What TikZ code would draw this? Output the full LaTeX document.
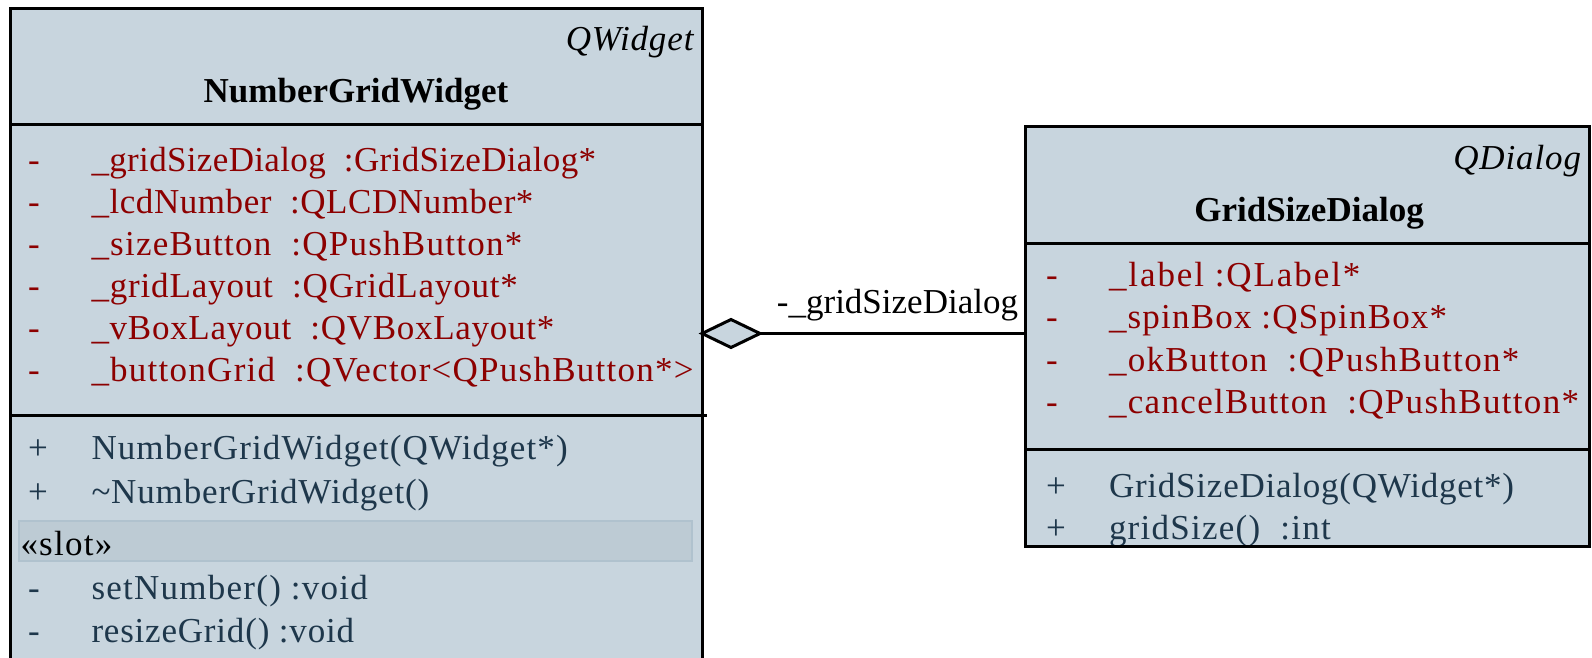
\documentclass[tikz,border=0pt]{standalone}
\usepackage{fontspec}
\setmainfont{Liberation Serif}
\usetikzlibrary{shapes.geometric}

\definecolor{boxfill}{RGB}{200,213,222}
\definecolor{attrred}{RGB}{140,0,0}
\definecolor{opblue}{RGB}{30,55,75}
\definecolor{slotfill}{RGB}{189,203,212}
\definecolor{slotline}{RGB}{176,194,206}

\tikzset{
  boxbody/.style={rectangle, fill=boxfill, inner sep=0pt, outer sep=0pt, anchor=north west},
  boxline/.style={draw=black, line width=3pt},
  txt/.style={inner sep=0pt, outer sep=0pt, font=\fontsize{35}{42}\selectfont},
  tracking/.style={font=\fontsize{35}{42}\selectfont\addfontfeature{LetterSpace=#1}},
  tracking/.default=3.6,
  attr/.style={txt, tracking, text=attrred, anchor=base west},
  oper/.style={txt, tracking, text=opblue, anchor=base west},
  parent/.style={txt, font=\fontsize{35}{42}\selectfont\itshape\addfontfeature{LetterSpace=2.5}, anchor=base east},
  classname/.style={txt, font=\fontsize{35}{42}\selectfont\bfseries, anchor=base},
  aggdiamond/.style={diamond, draw=black, line width=3pt, fill=boxfill,
    minimum width=58pt, minimum height=28pt, inner sep=0pt, outer sep=0pt, anchor=west},
}

\begin{document}
\begin{tikzpicture}[x=1pt, y=-1pt]
\useasboundingbox (0,0) rectangle (1592,658);
\clip (0,0) rectangle (1592,658);

% ---------- class NumberGridWidget ----------
\node[boxbody, minimum width=692pt, minimum height=700pt] (ngw) at (10,9) {};
\node[parent] (ngwparent) at (693.5,51) {QWidget};
\node[classname] (ngwname) at (356,102.5) {NumberGridWidget};

\foreach \ls/\name [count=\i] in {
    1.0/{\_gridSizeDialog\ \ :GridSizeDialog*},
    1.6/{\_lcdNumber\ \ :QLCDNumber*},
    3.6/{\_sizeButton\ \ :QPushButton*},
    2.4/{\_gridLayout\ \ :QGridLayout*},
    2.1/{\_vBoxLayout\ \ :QVBoxLayout*},
    3.6/{\_buttonGrid\ \ :QVector<QPushButton*>}} {
  \node[attr] (ngwvis\i) at (28,{171+42*(\i-1)}) {-};
  \node[attr, tracking=\ls] (ngwattr\i) at (91.5,{171+42*(\i-1)}) {\name};
}

\node[oper] (ngwvisop1) at (28,459) {+};
\node[oper, tracking=3.2] (ngwop1) at (91.5,459) {NumberGridWidget(QWidget*)};
\node[oper] (ngwvisop2) at (28,503.5) {+};
\node[oper, tracking=2.4] (ngwop2) at (91.5,503.5) {\textasciitilde NumberGridWidget()};

% stereotype band
\draw[fill=slotfill, draw=slotline, line width=1.5pt] (19,521) rectangle (692,561);
\node[txt, tracking, anchor=base west] (slotlbl) at (20.5,555.5) {«slot»};

\node[oper] (ngwvisop3) at (28,599) {-};
\node[oper] (ngwop3) at (91.5,599) {setNumber()\ :void};
\node[oper] (ngwvisop4) at (28,642) {-};
\node[oper, tracking=2.3] (ngwop4) at (91.5,642) {resizeGrid()\ :void};

\draw[boxline] (ngw.west |- 0,125) -- (ngw.east |- 0,125);
\draw[boxline] (ngw.west |- 0,415) -- ([xshift=5pt]ngw.east |- 0,415);
\draw[boxline] (ngw.south west) rectangle (ngw.north east);

% ---------- class GridSizeDialog ----------
\node[boxbody, minimum width=563.5pt, minimum height=419pt] (gsd) at (1025.5,127) {};
\begin{scope}
\clip (gsd.south west) rectangle (gsd.north east);
\node[parent] (gsdparent) at (1581,169.5) {QDialog};
\node[classname] (gsdname) at (1309,221) {GridSizeDialog};

\foreach \ls/\name [count=\i] in {
    5.5/{\_label\ :QLabel*},
    3.4/{\_spinBox\ :QSpinBox*},
    3.8/{\_okButton\ \ :QPushButton*},
    3.8/{\_cancelButton\ \ :QPushButton*}} {
  \node[attr] (gsdvis\i) at (1046,{286+42.5*(\i-1)}) {-};
  \node[attr, tracking=\ls] (gsdattr\i) at (1109,{286+42.5*(\i-1)}) {\name};
}

\node[oper] (gsdvisop1) at (1046,497) {+};
\node[oper, tracking=2.2] (gsdop1) at (1109,497) {GridSizeDialog(QWidget*)};
\node[oper] (gsdvisop2) at (1046,539.5) {+};
\node[oper] (gsdop2) at (1109,539.5) {gridSize()\ \ :int};
\end{scope}

\draw[boxline] (gsd.west |- 0,243.5) -- (gsd.east |- 0,243.5);
\draw[boxline] (gsd.west |- 0,449.5) -- (gsd.east |- 0,449.5);
\draw[boxline] (gsd.south west) rectangle (gsd.north east);

% ---------- aggregation ----------
\node[aggdiamond] (agg) at (ngw.east |- 0,333.5) {};
\draw[line width=3pt] (agg.east) -- (agg.east -| gsd.west);
\node[txt, anchor=base east] (aggrole) at (1018,313) {-\_gridSizeDialog};
\end{tikzpicture}
\end{document}
